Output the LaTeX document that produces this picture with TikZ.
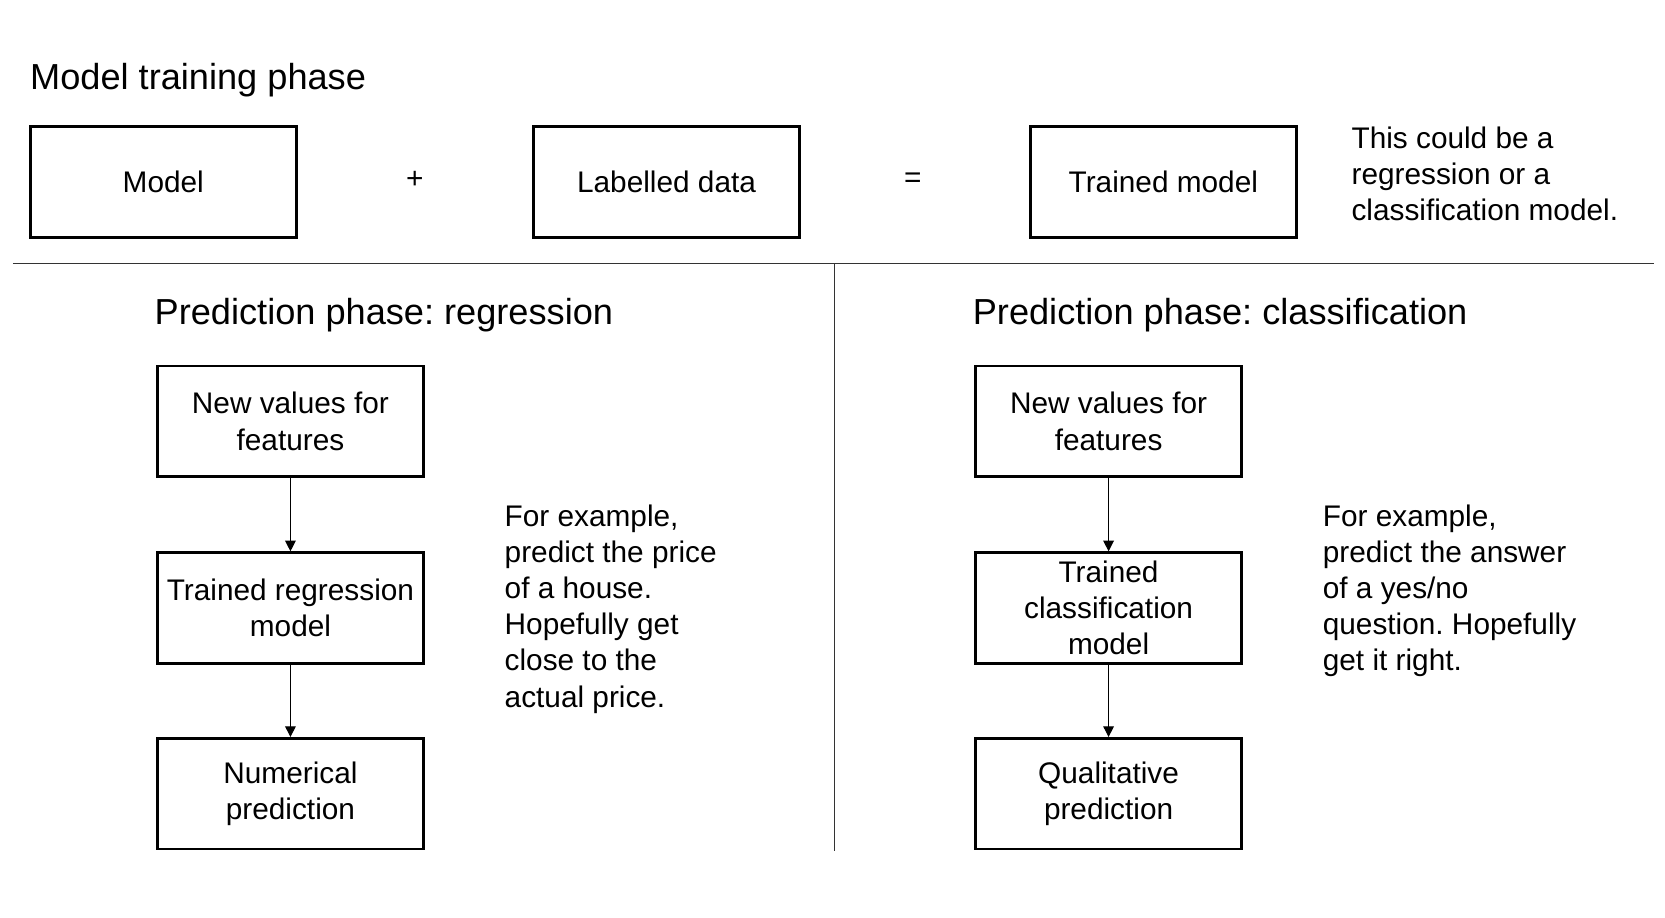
\documentclass[tikz,border=0pt]{standalone}
\usepackage{fontspec}
\setmainfont{Liberation Sans}
\usetikzlibrary{arrows.meta}
\frenchspacing
\tikzset{
  box/.style={draw,line width=1.3pt,minimum width=125pt,minimum height=52pt,align=center,inner sep=2pt,font=\fontsize{14}{17}\selectfont},
  note/.style={anchor=north west,align=left,inner sep=0pt,font=\fontsize{14}{17}\selectfont},
  phase/.style={anchor=base west,inner sep=0pt,font=\fontsize{17}{20}\selectfont},
  sign/.style={font=\fontsize{14}{17}\selectfont},
  flow/.style={-{Triangle[length=5pt,width=5pt]},line width=0.5pt},
}
\begin{document}
\begin{tikzpicture}[x=0.5pt,y=-0.5pt]
      \useasboundingbox (0,0) rectangle (1565,862);
      % training phase
      \node[phase] (trainhead) at (28,84) {Model training phase};
      \node[box] (model) at (153.5,171) {Model};
      \node[sign] (plus) at (390,169) {+};
      \node[box] (labelled) at (626.5,171) {Labelled data};
      \node[sign] (equals) at (858,169) {=};
      \node[box] (trained) at (1093.5,171) {Trained model};
      \node[note] (trainnote) at (1270,119) {This could be a\\regression or a\\classification model.};
      \draw[black!80,line width=0.5pt] (12,248) -- (1555,248);
      \draw[black!80,line width=0.5pt] (784,248) -- (784,800);
      % regression
      \node[phase] (reghead) at (145,305) {Prediction phase: regression};
      \node[box] (regin) at (273,396) {New values for\\features};
      \node[box] (regmodel) at (273,571.5) {Trained regression\\model};
      \node[box] (regout) at (273,746) {Numerical\\prediction};
      \node[note] (regnote) at (474,474) {For example,\\predict the price\\of a house.\\Hopefully get\\close to the\\actual price.};
      \draw[flow] (regin.south) -- (regmodel.north);
      \draw[flow] (regmodel.south) -- (regout.north);
      % classification
      \node[phase] (clshead) at (914,305) {Prediction phase: classification};
      \node[box] (clsin) at (1042,396) {New values for\\features};
      \node[box] (clsmodel) at (1042,571.5) {Trained\\classification\\model};
      \node[box] (clsout) at (1042,746) {Qualitative\\prediction};
      \node[note] (clsnote) at (1243,474) {For example,\\predict the answer\\of a yes/no\\question. Hopefully\\get it right.};
      \draw[flow] (clsin.south) -- (clsmodel.north);
      \draw[flow] (clsmodel.south) -- (clsout.north);
    \end{tikzpicture}
\end{document}
